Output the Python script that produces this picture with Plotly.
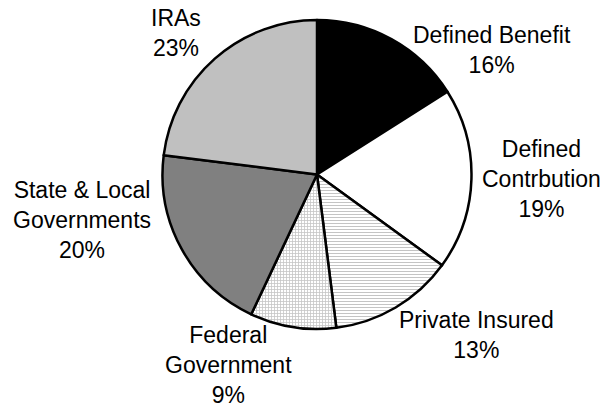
import plotly.graph_objects as go

labels = ["Defined Benefit", "Defined<br>Contrbution", "Private Insured",
          "Federal<br>Government", "State & Local<br>Governments", "IRAs"]
values = [16, 19, 13, 9, 20, 23]
colors = ["#000000", "#ffffff", "#ffffff", "#ffffff", "#808080", "#c0c0c0"]
shapes = ["", "", "-", "+", "", ""]
fgcolors = ["#000000", "#000000", "#8a8a8a", "#8a8a8a", "#000000", "#000000"]
solidities = [0.35, 0.35, 0.35, 0.45, 0.35, 0.35]

# label centres in pixels (layout)
label_px = [(491.5, 50), (541, 179), (477, 335), (228, 365), (82, 220), (176, 33)]

W, H = 605, 410
fig = go.Figure(go.Pie(
    labels=labels, values=values, sort=False, direction="clockwise", rotation=0,
    textinfo="none", hoverinfo="label+percent",
    marker=dict(colors=colors, line=dict(color="#000000", width=2.5),
                pattern=dict(shape=shapes, fgcolor=fgcolors, bgcolor=colors,
                             size=3, solidity=solidities, fillmode="overlay")),
    domain=dict(x=[162 / W, 472 / W], y=[(H - 329) / H, (H - 20) / H]),
    showlegend=False,
))

annotations = []
for lab, val, (px, py) in zip(labels, values, label_px):
    annotations.append(dict(
        text=f"{lab}<br>{val}%", x=px / W, y=1 - py / H, xref="paper", yref="paper",
        xanchor="center", yanchor="middle", showarrow=False, align="center",
        font=dict(family="Liberation Sans, Arial, sans-serif", size=23, color="#000000"),
    ))

fig.update_layout(
    width=W, height=H, margin=dict(l=0, r=0, t=0, b=0),
    paper_bgcolor="#ffffff", plot_bgcolor="#ffffff",
    annotations=annotations,
)
fig.write_html("out.html")
